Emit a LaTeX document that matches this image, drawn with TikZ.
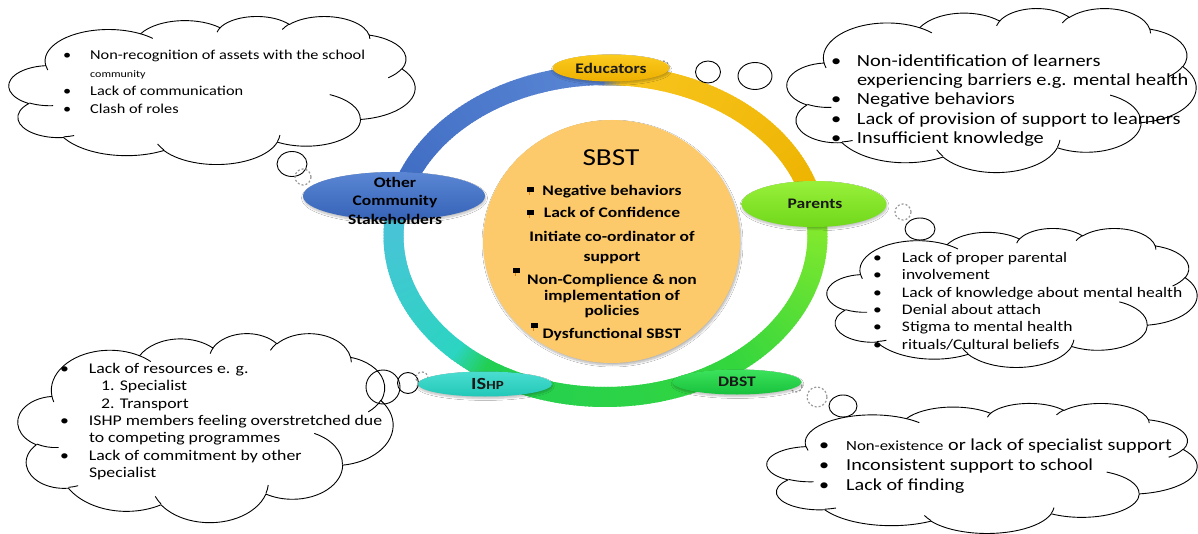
\documentclass[tikz,border=0pt]{standalone}
\usepackage{fontspec}
\setmainfont{Carlito}
\usetikzlibrary{shapes.geometric}
\usetikzlibrary{shadows.blur}

% ring colours, going round clockwise
\definecolor{rblueA}{HTML}{3F6DC3}
\definecolor{rblueB}{HTML}{5B86D5}
\definecolor{rgoldA}{HTML}{F8C51E}
\definecolor{rgoldB}{HTML}{EDB300}
\definecolor{rlime}{HTML}{86EA2C}
\definecolor{rgreenA}{HTML}{34D63E}
\definecolor{rgreenB}{HTML}{22CF52}
\definecolor{rtealA}{HTML}{2CD4C2}
\definecolor{rtealB}{HTML}{4CC2DA}
% fills
\definecolor{sbstfill}{HTML}{FCC96B}
\definecolor{edutop}{HTML}{FACB1E}
\definecolor{edubot}{HTML}{EEB000}
\definecolor{othtop}{HTML}{5A86D4}
\definecolor{othbot}{HTML}{3763B8}
\definecolor{partop}{HTML}{98F03A}
\definecolor{parbot}{HTML}{70D81A}
\definecolor{ishtop}{HTML}{4ADDD0}
\definecolor{ishbot}{HTML}{22C8B8}
\definecolor{dbstop}{HTML}{3CE25C}
\definecolor{dbsbot}{HTML}{18C23C}

% text on the slide is a little stretched sideways
\newcommand{\wide}[1]{\scalebox{1.2}[1]{#1}}

% one puff of a cloud: radii, start and sweep given as seen on the page
\newcommand{\puff}[4]{arc[x radius=#1, y radius=#2,
  start angle={atan2((#1)*sin(#3),(#2)*cos(#3))},
  delta angle={Mod(atan2((#1)*sin((#3)+(#4)),(#2)*cos((#3)+(#4)))-atan2((#1)*sin(#3),(#2)*cos(#3)),360)}]}

% cloud in a 100x100 box: left, top, width, height
\newcommand{\thoughtcloud}[4]{
\begin{scope}[shift={(#1,#2)}, xscale=#3/100, yscale=#4/100]
\filldraw[puffline, fill=white] (9.028,33.264)
  \puff{15.632}{21.273}{-190.4875}{123.7805}
  \puff{12.345}{16.822}{-144.1024}{89.9452}
  \puff{10.104}{13.762}{-145.8079}{99.7230}
  \puff{11.243}{15.266}{-130.9861}{117.2417}
  \puff{12.345}{16.836}{-78.7089}{109.0269}
  \puff{15.683}{21.343}{-46.2673}{130.2690}
  \puff{13.391}{18.211}{0.6250}{114.0333}
  \puff{15.630}{21.331}{22.4516}{115.1726}
  \puff{17.870}{24.405}{66.2426}{75.7110}
  \puff{10.093}{13.699}{-274.9421}{146.7356}
  \puff{10.058}{13.762}{-246.8285}{152.5189} -- cycle;
% inner folds
\draw[puffline]
  (10.863,60.595) \puff{10.058}{13.762}{86.7420}{26.4295}
  (16.037,80.785) \puff{10.093}{13.699}{73.6105}{11.4475}
  (38.144,90.486) \puff{15.630}{21.331}{137.6242}{14.0811}
  (66.729,80.442) \puff{15.630}{21.331}{6.4533}{15.9984}
  (79.002,53.134) \puff{13.391}{18.211}{-70.2924}{70.9174}
  (96.755,35.542) \puff{12.345}{16.836}{30.3180}{27.7515}
  (88.713,12.560) \puff{11.243}{15.266}{-13.7443}{14.8589}
  (67.310,9.148) \puff{11.243}{15.266}{-149.1815}{18.1954}
  (51.252,10.926) \puff{10.104}{13.762}{-163.4943}{17.6864}
  (32.407,12.019) \puff{15.632}{21.273}{-66.7070}{12.3194}
  (9.553,36.549) \puff{15.632}{21.273}{157.6544}{11.8582};
\end{scope}
}

\tikzset{
  puffline/.style={draw=black, line width=0.9pt, line join=round},
  bubble/.style={draw=black, line width=0.9pt},
  hidbubble/.style={draw=black!40, line width=1.2pt, dash pattern=on 2pt off 2pt},
  notes/.style={anchor=north west, inner sep=0pt},
  stake/.style={ellipse, inner sep=0pt, text=black!90,
    font=\fontsize{14.6}{15}\selectfont\bfseries,
    blur shadow={shadow blur steps=6, shadow xshift=0.5pt, shadow yshift=-2pt, shadow opacity=25}},
  sbstline/.style={anchor=base, inner sep=0pt, font=\fontsize{14.6}{15}\selectfont\bfseries}
}

\begin{document}
\begin{tikzpicture}[x=1pt, y=-1pt]

\path[use as bounding box, fill=white] (0,0) rectangle (1198,534);

% the ring
\begin{scope}[shift={(605.5,236)}]
\foreach \a/\b/\ca/\cb in {-92/-86/rblueB/rgoldA, -86/-16/rgoldA/rgoldB, -16/-6/rgoldB/rlime,
    -6/52/rlime/rgreenA, 52/124/rgreenA/rgreenB, 124/134/rgreenB/rtealA,
    134/188/rtealA/rtealB, 188/198/rtealB/rblueA, 198/268/rblueA/rblueB}
  \foreach \t in {\a,...,\b} {
    \pgfmathtruncatemacro\p{100*(\t-\a)/(\b-\a)}
    \draw[line width=20pt, \cb!\p!\ca] (\t:212 and 161) arc[start angle=\t, delta angle=1.6, x radius=212, y radius=161];
  }
\end{scope}

% centre
\node[ellipse, minimum width=257, minimum height=243, fill=sbstfill,
  blur shadow={shadow blur steps=8, shadow xshift=1pt, shadow yshift=-2pt, shadow opacity=30}] (sbst) at (611.5,241.5) {};
\node[anchor=base, inner sep=0pt, font=\fontsize{24.4}{24}\selectfont] (sbsttitle) at (611,166) {\wide{SBST}};
\foreach \yb/\txt [count=\i] in {196/Negative behaviors, 218/Lack of Confidence, 242/Initiate co-ordinator of,
    262/support, 284/Non-Complience \& non, 301/implementation of, 316/policies, 338/Dysfunctional SBST}
  \node[sbstline] (sbst\i) at (612,\yb) {\wide{\txt}};
\foreach \x/\y in {527/187, 527/210, 513/268, 531/323} {
  \fill[black] (\x,\y) rectangle ++(7,5);
  \draw[orange!60!brown, line width=1pt] (\x+2,\y+5) -- ++(0,3);
}

% bubbles partly under the clouds
\draw[bubble] (920,229) ellipse[x radius=15, y radius=11];
\draw[bubble] (843,406) ellipse[x radius=14, y radius=11];

% clouds
\thoughtcloud{9}{16}{406}{148}
\thoughtcloud{787}{8}{409}{164}
\thoughtcloud{827}{228}{370}{139}
\thoughtcloud{18}{333}{375}{189}
\thoughtcloud{767}{403}{430}{130}

% the other bubbles
\draw[bubble] (292,164) ellipse[x radius=15, y radius=12.5];
\draw[hidbubble] (303,177) circle[radius=8];
\draw[hidbubble] (663,67) circle[radius=6];
\draw[bubble] (708,72) ellipse[x radius=12.5, y radius=11];
\draw[bubble] (755,76) ellipse[x radius=17, y radius=13.5];
\draw[hidbubble] (903,212) circle[radius=8];
\draw[bubble] (383,387) circle[radius=17];
\draw[bubble] (408,383) circle[radius=10.5];
\draw[hidbubble] (422,378) circle[radius=6];
\draw[hidbubble] (796,386) circle[radius=6];
\draw[hidbubble] (817,397) circle[radius=10];

% stakeholders on the ring
\node[stake, minimum width=117, minimum height=27, top color=edutop, bottom color=edubot] (educators) at (611,68) {\wide{Educators}};
\node[stake, minimum width=182, minimum height=48, top color=othtop, bottom color=othbot] (others) at (394,196) {};
\node[anchor=north, inner sep=0pt, font=\fontsize{14.6}{18.7}\selectfont\bfseries] (otherstxt) at (395,174)
  {\wide{\begin{tabular}{@{}c@{}}Other\\Community\\Stakeholders\end{tabular}}};
\node[stake, minimum width=145, minimum height=46, top color=partop, bottom color=parbot] (parents) at (814,204) {\hspace{2pt}\wide{Parents}};
\node[stake, minimum width=134, minimum height=25, top color=ishtop, bottom color=ishbot] (ishp) at (485,384)
  {\hspace{5pt}\wide{{\fontsize{17}{17}\selectfont IS}{\fontsize{12.5}{12.5}\selectfont HP}}};
\node[stake, minimum width=129, minimum height=25, top color=dbstop, bottom color=dbsbot] (dbst) at (737,382) {\wide{DBST}};

% cloud texts
\node[notes, font=\fontsize{13.6}{18}\selectfont] (othersnotes) at (63,47) {\wide{%
\begin{tabular}{@{}p{22.5pt}@{}l@{}}
\textbullet & Non-recognition of assets with the school\\
 & {\fontsize{10}{12}\selectfont community}\\
\textbullet & Lack of communication\\
\textbullet & Clash of roles
\end{tabular}}};

\node[notes, font=\fontsize{17}{19.3}\selectfont] (educatorsnotes) at (831,52.5) {\wide{%
\begin{tabular}{@{}p{21.5pt}@{}l@{}}
\textbullet & Non-identification of learners\\
 & experiencing barriers e.g. mental health\\
\textbullet & Negative behaviors\\
\textbullet & Lack of provision of support to learners\\
\textbullet & Insufficient knowledge
\end{tabular}}};

\node[notes, font=\fontsize{14.6}{17.4}\selectfont] (parentsnotes) at (873,250) {\wide{%
\begin{tabular}{@{}p{24pt}@{}l@{}}
\textbullet & Lack of proper parental\\
\textbullet & involvement\\
\textbullet & Lack of knowledge about mental health\\
\textbullet & Denial about attach\\
\textbullet & Stigma to mental health\\
\textbullet & rituals/Cultural beliefs
\end{tabular}}};

\node[notes, font=\fontsize{14.8}{17.4}\selectfont] (ishpnotes) at (60,361) {\wide{%
\begin{tabular}{@{}p{24pt}@{}l@{}}
\textbullet & Lack of resources e. g.\\
 & \hspace{10pt}1. Specialist\\
 & \hspace{10pt}2. Transport\\
\textbullet & ISHP members feeling overstretched due\\
 & to competing programmes\\
\textbullet & Lack of commitment by other\\
 & Specialist
\end{tabular}}};

\node[notes, font=\fontsize{16.8}{20}\selectfont] (dbstnotes) at (819,436.5) {\wide{%
\begin{tabular}{@{}p{22.5pt}@{}l@{}}
\textbullet & {\fontsize{14}{20}\selectfont Non-existence} or lack of specialist support\\
\textbullet & Inconsistent support to school\\
\textbullet & Lack of finding
\end{tabular}}};

\end{tikzpicture}
\end{document}
